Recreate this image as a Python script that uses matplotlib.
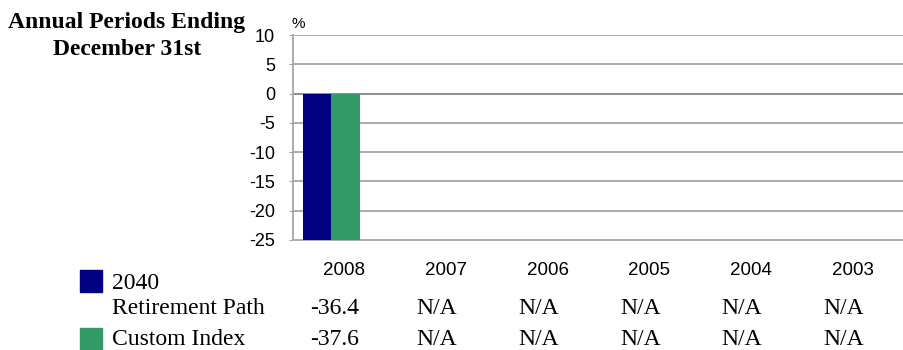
import numpy as np
import matplotlib.pyplot as plt
from matplotlib.patches import Rectangle
from matplotlib.transforms import blended_transform_factory

# Datos
years = ['2008', '2007', '2006', '2005', '2004', '2003']
fund_name = ['2040', 'Retirement Path']
index_name = 'Custom Index'
fund_values = [-36.4, None, None, None, None, None]
index_values = [-37.6, None, None, None, None, None]
yticks = [10, 5, 0, -5, -10, -15, -20, -25]

navy = '#000080'
green = '#339966'
grid_color = '#a6a6a6'

W, H = 904, 350
fig = plt.figure(figsize=(W / 100, H / 100), dpi=100)

def fx(px):
    return px / W

def fy(py):
    return 1 - py / H

# Área del gráfico
ax = fig.add_axes([fx(293), fy(240), fx(904) - fx(293), fy(35) - fy(240)])
x = np.arange(len(years))

f_vals = np.array([np.nan if v is None else v for v in fund_values])
i_vals = np.array([np.nan if v is None else v for v in index_values])
ax.bar(x - 0.265, f_vals, width=0.28, color=navy, zorder=3)
ax.bar(x + 0.015, i_vals, width=0.285, color=green, zorder=3)

ax.set_xlim(-0.5, len(years) - 0.5)
ax.set_ylim(-25, 10)
ax.set_yticks(yticks)
ax.set_yticklabels([str(t) for t in yticks], fontsize=13, family='Liberation Sans')
ax.tick_params(axis='y', length=3, color=grid_color, pad=10)
ax.set_xticks([])

for t in yticks[:-1]:
    ax.axhline(t, color=grid_color, lw=1.3, zorder=1)
ax.axhline(0, color='#8c8c8c', lw=1.3, zorder=1)

for s in ['top', 'right']:
    ax.spines[s].set_visible(False)
for s in ['left', 'bottom']:
    ax.spines[s].set_color(grid_color)
    ax.spines[s].set_linewidth(1.3)

# Títulos
fig.text(fx(127), fy(28), 'Annual Periods Ending', ha='center', va='baseline',
         fontsize=17, fontweight='bold', family='Liberation Serif')
fig.text(fx(127), fy(55), 'December 31st', ha='center', va='baseline',
         fontsize=17, fontweight='bold', family='Liberation Serif')
fig.text(fx(292), fy(28), '%', ha='left', va='baseline', fontsize=11,
         family='Liberation Sans')

# Tabla de rendimientos
trans = blended_transform_factory(ax.transData, fig.transFigure)
for i, yr in enumerate(years):
    fig.text(i, fy(275), yr, transform=trans, ha='center', va='baseline',
             fontsize=13.5, family='Liberation Sans')
    fv = 'N/A' if fund_values[i] is None else f'{fund_values[i]:.1f}'
    iv = 'N/A' if index_values[i] is None else f'{index_values[i]:.1f}'
    fig.text(i - 0.09, fy(314), fv, transform=trans, ha='center', va='baseline',
             fontsize=17, family='Liberation Serif')
    fig.text(i - 0.09, fy(345), iv, transform=trans, ha='center', va='baseline',
             fontsize=17, family='Liberation Serif')

fig.patches.append(Rectangle((fx(80), fy(292)), fx(22), fy(270) - fy(292),
                             transform=fig.transFigure, color=navy))
fig.patches.append(Rectangle((fx(80), fy(350)), fx(22), fy(328) - fy(350),
                             transform=fig.transFigure, color=green))
fig.text(fx(112), fy(289), fund_name[0], ha='left', va='baseline',
         fontsize=17, family='Liberation Serif')
fig.text(fx(112), fy(314), fund_name[1], ha='left', va='baseline',
         fontsize=17, family='Liberation Serif')
fig.text(fx(112), fy(345), index_name, ha='left', va='baseline',
         fontsize=17, family='Liberation Serif')

plt.savefig('out.png', dpi=100)
